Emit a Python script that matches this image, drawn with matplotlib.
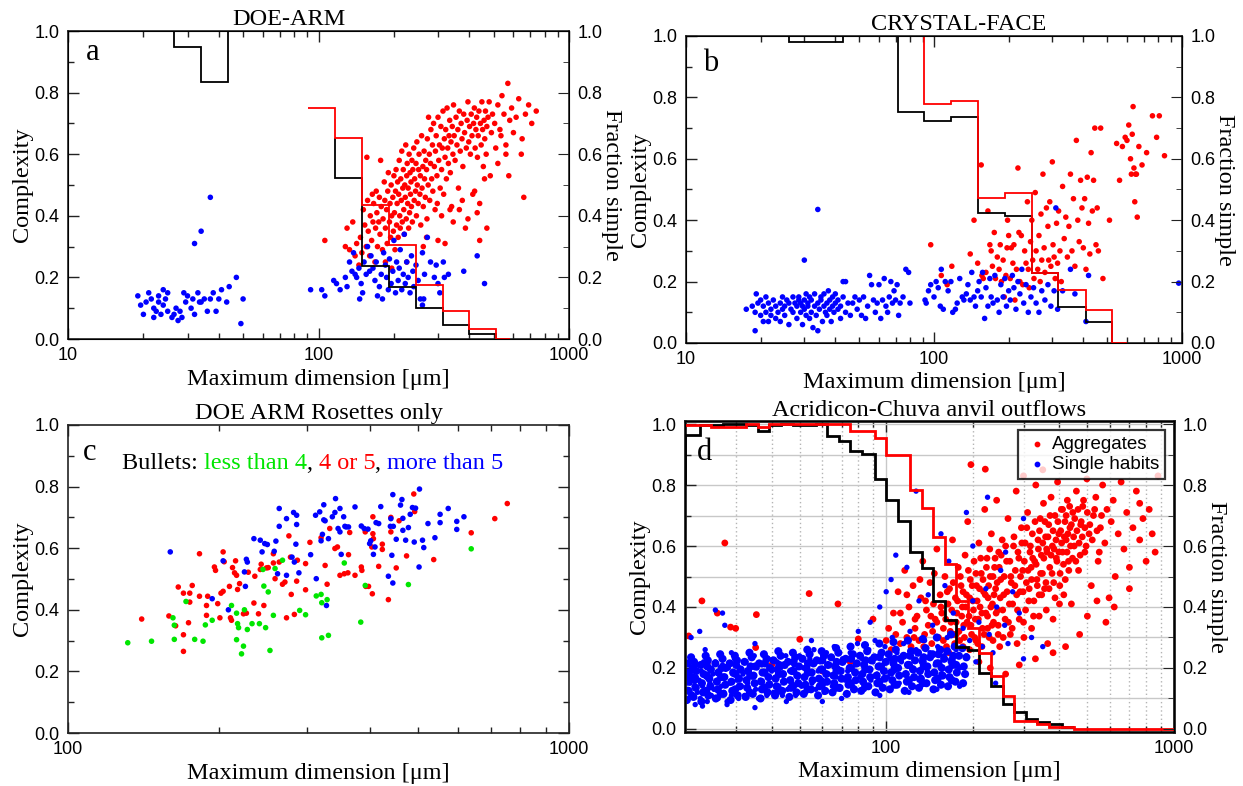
import numpy as np
import matplotlib.pyplot as plt
from matplotlib.ticker import FixedLocator, MultipleLocator, NullFormatter

SERIF = 'Liberation Serif'
SANS = 'Liberation Sans'
RED = '#ff0000'
BLUE = '#0000ff'
GREEN = '#00e600'

# ---------------- panel a : DOE-ARM ----------------
a_single = [(19, 0.14), (19.5, 0.11), (20, 0.08), (20.5, 0.12), (21, 0.15), (21.5, 0.13), (22, 0.10), (22, 0.07),
            (22.5, 0.09), (23, 0.14), (23, 0.12), (23.5, 0.08), (24, 0.16), (24, 0.11), (24.5, 0.13), (25, 0.15),
            (25, 0.09), (26, 0.07), (26.5, 0.08), (27, 0.10), (27.5, 0.06), (28, 0.09), (28.5, 0.07), (29, 0.15),
            (29.5, 0.12), (30, 0.14), (31, 0.10), (31.5, 0.13), (32, 0.08), (33, 0.15), (33.5, 0.12), (34, 0.12),
            (35, 0.13), (36, 0.09), (37, 0.13), (38, 0.15), (39, 0.09), (40, 0.13), (41, 0.16), (43, 0.12),
            (44, 0.17), (47, 0.20), (49, 0.05), (50, 0.13), (37, 0.46), (34, 0.35), (32, 0.31),
            (93, 0.16), (103, 0.16), (106, 0.14), (115, 0.19), (118, 0.18), (122, 0.16), (128, 0.20), (130, 0.17),
            (133, 0.25), (136, 0.22), (138, 0.28), (140, 0.21), (142, 0.20), (145, 0.23), (146, 0.13), (148, 0.18),
            (150, 0.15), (152, 0.25), (155, 0.21), (157, 0.30), (160, 0.22), (162, 0.27), (165, 0.23), (168, 0.19),
            (170, 0.25), (172, 0.14), (175, 0.17), (178, 0.21), (180, 0.13), (182, 0.28), (185, 0.24), (187, 0.20),
            (190, 0.16), (192, 0.26), (195, 0.18), (198, 0.22), (200, 0.32), (203, 0.15), (205, 0.25), (208, 0.19),
            (210, 0.23), (212, 0.29), (215, 0.16), (218, 0.21), (220, 0.34), (222, 0.18), (225, 0.25), (228, 0.20),
            (232, 0.15), (235, 0.27), (238, 0.22), (240, 0.17), (245, 0.24), (250, 0.19), (255, 0.13), (260, 0.28),
            (265, 0.21), (272, 0.33), (280, 0.25), (290, 0.20), (295, 0.24), (300, 0.18), (305, 0.15), (315, 0.25),
            (318, 0.20), (330, 0.21), (380, 0.22), (430, 0.27), (460, 0.18), (260, 0.11), (263, 0.13)]
a_aggr = [(106, 0.32), (128, 0.30), (130, 0.36), (133, 0.29), (137, 0.38), (140, 0.27), (142, 0.31), (145, 0.24),
          (147, 0.33), (149, 0.28), (151, 0.42), (153, 0.37), (155, 0.30), (156, 0.59), (157, 0.45), (158, 0.35),
          (160, 0.27), (161, 0.40), (163, 0.32), (164, 0.47), (165, 0.38), (166, 0.44), (168, 0.25), (169, 0.36),
          (170, 0.48), (171, 0.41), (172, 0.30), (174, 0.38), (175, 0.46), (176, 0.34), (177, 0.58), (178, 0.43),
          (180, 0.29), (181, 0.39), (183, 0.51), (184, 0.45), (185, 0.36), (187, 0.42), (188, 0.31), (189, 0.48),
          (190, 0.54), (192, 0.38), (193, 0.44), (194, 0.33), (195, 0.50), (196, 0.40), (198, 0.46), (199, 0.35),
          (200, 0.53), (201, 0.41), (202, 0.29), (203, 0.48), (204, 0.55), (205, 0.37), (206, 0.44), (207, 0.51),
          (208, 0.33), (209, 0.47), (210, 0.58), (211, 0.40), (212, 0.36), (213, 0.52), (214, 0.45), (215, 0.61),
          (216, 0.38), (217, 0.49), (218, 0.55), (219, 0.42), (220, 0.34), (221, 0.50), (222, 0.46), (223, 0.63),
          (224, 0.39), (225, 0.53), (226, 0.57), (227, 0.44), (228, 0.49), (229, 0.36), (230, 0.60), (231, 0.41),
          (232, 0.54), (233, 0.47), (234, 0.51), (235, 0.43), (236, 0.58), (237, 0.38), (238, 0.55), (240, 0.62),
          (241, 0.45), (242, 0.52), (244, 0.48), (245, 0.57), (246, 0.40), (247, 0.64), (248, 0.50), (250, 0.44),
          (251, 0.55), (252, 0.60), (254, 0.47), (255, 0.53), (256, 0.37), (258, 0.66), (259, 0.49), (261, 0.56),
          (262, 0.43), (264, 0.61), (265, 0.52), (267, 0.46), (268, 0.58), (270, 0.55), (271, 0.39), (272, 0.65),
          (274, 0.50), (275, 0.72), (277, 0.60), (278, 0.45), (280, 0.57), (281, 0.68), (283, 0.52), (285, 0.63),
          (286, 0.48), (288, 0.70), (290, 0.56), (292, 0.42), (293, 0.61), (295, 0.66), (297, 0.53), (298, 0.44),
          (300, 0.72), (302, 0.58), (304, 0.63), (306, 0.49), (308, 0.69), (310, 0.55), (312, 0.62), (314, 0.74),
          (316, 0.47), (318, 0.65), (320, 0.59), (322, 0.68), (324, 0.52), (326, 0.75), (328, 0.62), (330, 0.57),
          (332, 0.66), (334, 0.71), (336, 0.54), (338, 0.64), (340, 0.43), (342, 0.69), (344, 0.60), (346, 0.76),
          (348, 0.66), (351, 0.58), (354, 0.72), (357, 0.63), (360, 0.68), (362, 0.49), (365, 0.74), (368, 0.61),
          (371, 0.70), (374, 0.65), (377, 0.56), (380, 0.73), (383, 0.67), (386, 0.36), (389, 0.62), (392, 0.71),
          (395, 0.77), (398, 0.64), (401, 0.69), (404, 0.60), (407, 0.73), (410, 0.66), (413, 0.47), (416, 0.70),
          (419, 0.75), (422, 0.62), (425, 0.68), (428, 0.72), (431, 0.59), (434, 0.66), (437, 0.74), (440, 0.32),
          (443, 0.70), (446, 0.63), (449, 0.77), (452, 0.68), (455, 0.56), (458, 0.71), (461, 0.65), (464, 0.74),
          (467, 0.60), (470, 0.69), (475, 0.72), (480, 0.77), (485, 0.53), (490, 0.67), (495, 0.73), (505, 0.70),
          (510, 0.62), (520, 0.76), (530, 0.68), (540, 0.79), (550, 0.73), (560, 0.60), (570, 0.83), (580, 0.71),
          (590, 0.75), (600, 0.67), (615, 0.72), (630, 0.78), (645, 0.60), (650, 0.65), (660, 0.46), (670, 0.73),
          (690, 0.76), (710, 0.70), (740, 0.74), (560, 0.63), (575, 0.53), (535, 0.66), (520, 0.57),
          (185, 0.25), (196, 0.23), (225, 0.25), (262, 0.30), (270, 0.33), (365, 0.42), (375, 0.45), (395, 0.39),
          (420, 0.48), (430, 0.41), (460, 0.52), (470, 0.36), (440, 0.44), (300, 0.32), (310, 0.40), (320, 0.31),
          (335, 0.42), (345, 0.38)]
a_top_edges = [16.2, 26.5, 33.9, 43.4, 55.5]
a_top_black = [1.0, 0.949, 0.833, 1.0]
a_top_red = [1.0, 1.0, 1.0, 1.0]
a_red_edges = [91.0, 116.5, 149, 191, 244, 313, 400, 512, 580]
a_red_frac = [0.749, 0.652, 0.435, 0.305, 0.175, 0.091, 0.034, 0.0]
a_black_edges = [116.5, 116.5, 149, 191, 244, 313, 400, 512, 512]
a_black_frac = [0.652, 0.522, 0.237, 0.170, 0.102, 0.047, 0.016, 0.0]

# ---------------- panel b : CRYSTAL-FACE ----------------
b_single = [(17.5, 0.11), (18.5, 0.12), (19, 0.04), (19, 0.10), (19.2, 0.16), (19.5, 0.13), (20, 0.09), (20, 0.14),
            (20.5, 0.07), (20.5, 0.12), (21, 0.15), (21, 0.10), (21.5, 0.13), (21.5, 0.07), (22, 0.11), (22, 0.09),
            (22.5, 0.14), (23, 0.12), (23, 0.08), (23.5, 0.10), (24, 0.13), (24, 0.07), (24.5, 0.15), (24.5, 0.11),
            (25, 0.12), (25, 0.09), (25.5, 0.14), (26, 0.13), (26, 0.06), (26.5, 0.11), (27, 0.15), (27, 0.10),
            (27.5, 0.13), (28, 0.12), (28, 0.08), (28.5, 0.15), (28.5, 0.14), (29, 0.10), (29, 0.13), (29.5, 0.12),
            (29.5, 0.06), (30, 0.14), (30, 0.11), (30.5, 0.16), (30.5, 0.09), (31, 0.13), (31, 0.12), (31.5, 0.15),
            (31.5, 0.08), (32, 0.10), (32, 0.14), (32.5, 0.05), (33, 0.12), (33, 0.16), (33.5, 0.09), (34, 0.13),
            (34, 0.04), (34.5, 0.11), (35, 0.15), (35, 0.14), (35.5, 0.07), (36, 0.12), (36, 0.16), (36.5, 0.10),
            (37, 0.13), (37, 0.09), (37.5, 0.17), (38, 0.11), (38, 0.14), (38.5, 0.07), (39, 0.15), (39, 0.12),
            (39.5, 0.10), (40, 0.13), (40, 0.16), (41, 0.11), (41, 0.14), (42, 0.08), (42, 0.12), (43, 0.15),
            (43, 0.20), (44, 0.10), (44, 0.20), (45, 0.13), (46, 0.09), (47, 0.13), (48, 0.15), (49, 0.11),
            (50, 0.14), (51, 0.09), (52, 0.15), (53, 0.08), (54, 0.12), (55, 0.22), (56, 0.19), (57, 0.14),
            (58, 0.10), (59, 0.13), (60, 0.19), (61, 0.08), (62, 0.14), (63, 0.21), (64, 0.12), (65, 0.10),
            (66, 0.15), (67, 0.20), (68, 0.13), (69, 0.17), (70, 0.14), (71, 0.19), (72, 0.09), (73, 0.13),
            (75, 0.15), (77, 0.24), (79, 0.23), (80, 0.13),
            (92, 0.14), (93, 0.13), (95, 0.17), (97, 0.19), (100, 0.15), (102, 0.20), (104, 0.18), (106, 0.12),
            (107, 0.24), (109, 0.11), (111, 0.20), (114, 0.17), (117, 0.20), (119, 0.10), (122, 0.11), (124, 0.13),
            (127, 0.21), (130, 0.15), (132, 0.14), (135, 0.16), (137, 0.19), (140, 0.14), (142, 0.23), (145, 0.15),
            (147, 0.12), (150, 0.17), (152, 0.20), (155, 0.15), (157, 0.23), (160, 0.08), (162, 0.18), (165, 0.12),
            (168, 0.21), (170, 0.15), (173, 0.13), (176, 0.22), (180, 0.14), (183, 0.10), (186, 0.19), (190, 0.15),
            (193, 0.21), (196, 0.12), (200, 0.17), (203, 0.14), (207, 0.22), (210, 0.18), (214, 0.11), (218, 0.20),
            (222, 0.16), (226, 0.24), (230, 0.13), (235, 0.19), (240, 0.10), (246, 0.15), (252, 0.18), (258, 0.13),
            (265, 0.10), (272, 0.17), (280, 0.14), (288, 0.19), (296, 0.12), (305, 0.17), (310, 0.44), (315, 0.11),
            (330, 0.17), (355, 0.24), (370, 0.16), (410, 0.07), (420, 0.22),
            (34, 0.435), (30, 0.27), (970, 0.195)]
b_aggr = [(107, 0.22), (113, 0.19), (118, 0.25), (97, 0.32), (140, 0.29), (145, 0.40), (150, 0.26), (155, 0.58),
          (156, 0.22), (158, 0.21), (162, 0.23), (165, 0.43), (168, 0.32), (170, 0.30), (172, 0.25), (175, 0.36),
          (177, 0.21), (180, 0.28), (183, 0.24), (185, 0.32), (187, 0.20), (190, 0.27), (192, 0.15), (195, 0.22),
          (197, 0.31), (198, 0.40), (200, 0.35), (203, 0.21), (205, 0.31), (208, 0.26), (210, 0.32), (212, 0.14),
          (215, 0.24), (218, 0.57), (220, 0.36), (222, 0.20), (225, 0.35), (228, 0.19), (232, 0.30), (235, 0.26),
          (238, 0.46), (240, 0.24), (242, 0.18), (245, 0.33), (248, 0.40), (250, 0.27), (253, 0.21), (256, 0.49),
          (258, 0.30), (262, 0.24), (265, 0.35), (268, 0.20), (270, 0.42), (272, 0.27), (275, 0.55), (278, 0.31),
          (280, 0.23), (284, 0.44), (288, 0.38), (290, 0.27), (293, 0.46), (296, 0.25), (300, 0.59), (302, 0.32),
          (305, 0.28), (308, 0.21), (312, 0.39), (315, 0.26), (318, 0.43), (322, 0.30), (326, 0.20), (330, 0.51),
          (335, 0.34), (340, 0.41), (345, 0.28), (350, 0.38), (355, 0.55), (360, 0.30), (365, 0.47), (370, 0.25),
          (375, 0.66), (380, 0.40), (385, 0.33), (390, 0.53), (395, 0.44), (400, 0.31), (405, 0.47), (410, 0.24),
          (415, 0.54), (420, 0.39), (425, 0.29), (430, 0.62), (435, 0.43), (440, 0.53), (445, 0.70), (450, 0.32),
          (455, 0.44), (460, 0.30), (470, 0.70), (480, 0.21), (510, 0.40), (545, 0.65), (560, 0.53), (575, 0.64),
          (590, 0.67), (600, 0.66), (610, 0.71), (620, 0.60), (630, 0.68), (640, 0.57), (645, 0.46), (650, 0.55),
          (660, 0.41), (670, 0.64), (690, 0.58), (720, 0.62), (760, 0.74), (790, 0.67), (810, 0.74), (850, 0.61),
          (635, 0.77), (625, 0.55), (655, 0.55)]
b_edges = [13.8, 26.1, 42.9, 71.3, 91.2, 116.6, 150.2, 193.6, 247.8, 317.6, 409, 524, 524]
b_black_frac = [1.0, 0.979, 1.0, 0.752, 0.724, 0.737, 0.423, 0.415, 0.228, 0.117, 0.068, 0.0]
b_red_edges = [13.8, 91.2, 116.6, 150.2, 193.6, 247.8, 317.6, 409, 524, 600]
b_red_frac = [1.0, 0.778, 0.789, 0.473, 0.490, 0.228, 0.172, 0.106, 0.0]

# ---------------- panel c : DOE ARM rosettes ----------------
c_few = [(131.6, 0.293), (146.8, 0.298), (162, 0.374), (163, 0.304), (172, 0.427), (179, 0.304), (186, 0.298),
         (188, 0.351), (194, 0.366), (212, 0.414), (217, 0.389), (217, 0.303), (218, 0.355), (219, 0.342),
         (224, 0.282), (222, 0.257), (228, 0.336), (233, 0.355), (241, 0.355), (245, 0.531), (246, 0.477),
         (248, 0.342), (251, 0.458), (253, 0.268), (257, 0.382), (259, 0.534), (268, 0.561), (290, 0.398),
         (298, 0.384), (313, 0.445), (320, 0.450), (321, 0.423), (321, 0.309), (329, 0.433), (331, 0.317),
         (356, 0.552), (384, 0.360), (392, 0.479), (478, 0.482), (638, 0.598), (163, 0.35), (225, 0.40)]
c_mid = [(140.3, 0.370), (159, 0.380), (164, 0.348), (170, 0.319), (170, 0.265), (166, 0.474), (170, 0.454),
         (175, 0.454), (175, 0.425), (174, 0.358), (177, 0.479), (183, 0.582), (183, 0.444), (189, 0.414),
         (189, 0.382), (190, 0.444), (196, 0.539), (197, 0.528), (199, 0.420), (201, 0.374), (202, 0.454),
         (204, 0.588), (205, 0.556), (204, 0.460), (210, 0.476), (211, 0.374), (212, 0.366), (213, 0.537),
         (215, 0.520), (216, 0.559), (217, 0.512), (218, 0.466), (220, 0.485), (224, 0.387), (227, 0.389),
         (229, 0.522), (235, 0.422), (236, 0.509), (240, 0.387), (242, 0.531), (243, 0.548), (246, 0.414),
         (249, 0.536), (251, 0.537), (257, 0.552), (257, 0.582), (259, 0.501), (264, 0.555), (268, 0.483),
         (271, 0.490), (273, 0.374), (276, 0.640), (278, 0.571), (279, 0.450), (283, 0.385), (286, 0.493),
         (287, 0.561), (298, 0.550), (298, 0.465), (304, 0.619), (320, 0.634), (326, 0.544), (329, 0.483),
         (333, 0.664), (341, 0.599), (345, 0.604), (349, 0.512), (356, 0.517), (362, 0.520), (365, 0.651),
         (363, 0.579), (374, 0.512), (385, 0.539), (386, 0.528), (392, 0.653), (393, 0.476), (398, 0.476),
         (404, 0.604), (406, 0.702), (405, 0.452), (406, 0.647), (407, 0.631), (417, 0.541), (424, 0.613),
         (424, 0.596), (436, 0.433), (441, 0.653), (441, 0.700), (452, 0.536), (458, 0.689), (474, 0.575),
         (490, 0.776), (492, 0.719), (537, 0.563), (638, 0.650), (711, 0.696), (753, 0.745)]
c_many = [(160, 0.588), (194, 0.436), (204, 0.559), (209, 0.400), (226, 0.476), (227, 0.564), (228, 0.555),
          (225, 0.523), (235, 0.631), (242, 0.626), (244, 0.588), (247, 0.615), (250, 0.612), (258, 0.590),
          (260, 0.623), (264, 0.729), (264, 0.671), (262, 0.517), (273, 0.512), (273, 0.696), (280, 0.571),
          (282, 0.716), (283, 0.555), (286, 0.707), (286, 0.677), (285, 0.613), (289, 0.520), (305, 0.579),
          (312, 0.707), (313, 0.501), (318, 0.718), (320, 0.624), (322, 0.645), (324, 0.692), (324, 0.741),
          (326, 0.689), (328, 0.414), (331, 0.631), (337, 0.702), (341, 0.716), (342, 0.761), (346, 0.664),
          (349, 0.729), (349, 0.653), (351, 0.580), (355, 0.702), (357, 0.671), (359, 0.669), (363, 0.669),
          (374, 0.734), (385, 0.672), (390, 0.664), (397, 0.662), (400, 0.615), (402, 0.624), (407, 0.580),
          (412, 0.683), (410, 0.604), (417, 0.680), (421, 0.735), (436, 0.509), (440, 0.671), (441, 0.696),
          (443, 0.577), (445, 0.487), (445, 0.774), (446, 0.671), (452, 0.629), (461, 0.740), (464, 0.758),
          (466, 0.697), (466, 0.658), (472, 0.626), (478, 0.667), (482, 0.710), (487, 0.732), (491, 0.620),
          (494, 0.730), (502, 0.539), (503, 0.792), (510, 0.626), (513, 0.602), (523, 0.680), (540, 0.634),
          (553, 0.710), (553, 0.683), (574, 0.729), (597, 0.661), (597, 0.687), (617, 0.702)]

# ---------------- panel d : Acridicon-Chuva ----------------
d_single = [(20.2, 0.09), (20.4, 0.13), (20.3, 0.17), (20.6, 0.21), (20.8, 0.15), (21.0, 0.11), (21.2, 0.19),
            (21.1, 0.23), (21.5, 0.14), (21.7, 0.08), (21.9, 0.17), (22.1, 0.12), (22.0, 0.21), (22.4, 0.16),
            (22.6, 0.10), (22.8, 0.19), (23.0, 0.14), (23.2, 0.22), (23.5, 0.12), (23.7, 0.17), (23.9, 0.09),
            (24.2, 0.20), (24.4, 0.15), (24.7, 0.11), (25.0, 0.18), (25.2, 0.13), (25.5, 0.22), (25.8, 0.16),
            (26.1, 0.10), (26.4, 0.19), (26.7, 0.14), (27.0, 0.21), (27.3, 0.12), (27.6, 0.17), (28.0, 0.09),
            (28.3, 0.20), (28.6, 0.15), (29.0, 0.11), (29.3, 0.18), (29.7, 0.23), (30.0, 0.13), (30.3, 0.16),
            (30.7, 0.10), (31.0, 0.20), (31.4, 0.14), (31.8, 0.18), (32.2, 0.11), (32.6, 0.22), (33.0, 0.15),
            (33.4, 0.19), (33.8, 0.12), (34.3, 0.17), (34.8, 0.24), (35.2, 0.13), (35.6, 0.20), (36.0, 0.10),
            (36.5, 0.16), (37.0, 0.21), (37.5, 0.14), (38.0, 0.18), (38.5, 0.11), (39.0, 0.23), (39.5, 0.15),
            (40.0, 0.19), (40.6, 0.12), (41.2, 0.17), (41.8, 0.22), (42.4, 0.14), (43.0, 0.20), (43.6, 0.11),
            (44.2, 0.16), (44.8, 0.24), (45.5, 0.13), (46.2, 0.19), (47.0, 0.15), (47.8, 0.21), (48.5, 0.11),
            (49.3, 0.17), (50.0, 0.24), (50.8, 0.14), (51.6, 0.20), (52.5, 0.12), (53.4, 0.18), (54.3, 0.23),
            (55.2, 0.15), (56.1, 0.26), (57.0, 0.13), (58.0, 0.19), (59.0, 0.22), (60.0, 0.16), (61.0, 0.12),
            (62.0, 0.25), (63.0, 0.18), (64.0, 0.21), (65.0, 0.14), (66.0, 0.27), (67.0, 0.17), (68.0, 0.20),
            (69.0, 0.13), (70.5, 0.23), (72.0, 0.16), (73.5, 0.19), (75.0, 0.25), (76.5, 0.14), (78.0, 0.21),
            (79.5, 0.28), (81.0, 0.17), (82.5, 0.23), (84.0, 0.13), (85.5, 0.20), (87.0, 0.26), (88.5, 0.16),
            (90.0, 0.22), (91.5, 0.29), (93.0, 0.18), (94.5, 0.24), (96.0, 0.14), (97.5, 0.21), (99.0, 0.27),
            (101, 0.17), (103, 0.23), (105, 0.30), (107, 0.19), (109, 0.25), (111, 0.15), (113, 0.22), (115, 0.28),
            (117, 0.18), (119, 0.24), (121, 0.32), (124, 0.20), (127, 0.26), (130, 0.16), (133, 0.23), (136, 0.29),
            (139, 0.19), (142, 0.25), (145, 0.34), (148, 0.21), (151, 0.27), (155, 0.18), (159, 0.24), (163, 0.30),
            (167, 0.22), (171, 0.38), (175, 0.26), (180, 0.20), (185, 0.33), (190, 0.24), (195, 0.29), (200, 0.42),
            (205, 0.22), (210, 0.35), (216, 0.27), (222, 0.46), (228, 0.31), (235, 0.25), (242, 0.40), (250, 0.52),
            (258, 0.34), (265, 0.28), (275, 0.45), (290, 0.38), (300, 0.23), (320, 0.30), (350, 0.27),
            (21, 0.30), (22.5, 0.32), (23.5, 0.26), (25.5, 0.39), (27, 0.38), (27.5, 0.34), (29, 0.25), (35, 0.28),
            (55, 0.29), (80, 0.32), (88, 0.35), (95, 0.40), (100, 0.45), (108, 0.57), (104, 0.49), (118, 0.53),
            (127, 0.78), (155, 0.64), (165, 0.55), (190, 0.71), (225, 0.76), (300, 0.69), (160, 0.47), (140, 0.44),
            (130, 0.42), (200, 0.60), (260, 0.58), (240, 0.15), (180, 0.14), (150, 0.13), (120, 0.12), (95, 0.11),
            (70, 0.10), (60, 0.09), (45, 0.09), (35, 0.07), (28, 0.08), (23, 0.075)]
# the saturated single-habit band
d_single_band = [
    (20.3, 0.095), (21.4, 0.105), (22.8, 0.09), (24.1, 0.11), (25.6, 0.10), (27.2, 0.115), (28.8, 0.095),
    (30.5, 0.11), (32.5, 0.105), (34.4, 0.115), (36.6, 0.10), (38.7, 0.12), (41.1, 0.11), (43.5, 0.125),
    (46.1, 0.105), (48.8, 0.12), (51.7, 0.115), (54.8, 0.13), (58.0, 0.11), (61.4, 0.125), (65.1, 0.12),
    (68.9, 0.135), (73.0, 0.115), (77.3, 0.13), (81.9, 0.125), (86.7, 0.14), (91.8, 0.12), (97.3, 0.135),
    (103, 0.13), (109, 0.145), (116, 0.125), (123, 0.14), (130, 0.135), (138, 0.15), (146, 0.13), (155, 0.145),
    (164, 0.14), (174, 0.155), (185, 0.15),
    (20.6, 0.125), (21.8, 0.135), (23.1, 0.12), (24.5, 0.14), (26.0, 0.13), (27.6, 0.145), (29.2, 0.125),
    (31.0, 0.14), (32.9, 0.135), (34.9, 0.15), (37.0, 0.13), (39.2, 0.145), (41.6, 0.14), (44.1, 0.155),
    (46.7, 0.135), (49.5, 0.15), (52.4, 0.145), (55.5, 0.16), (58.8, 0.14), (62.3, 0.155), (66.0, 0.15),
    (69.9, 0.165), (74.0, 0.145), (78.4, 0.16), (83.1, 0.155), (88.0, 0.17), (93.2, 0.15), (98.8, 0.165),
    (105, 0.16), (111, 0.175), (118, 0.155), (125, 0.17), (132, 0.165), (140, 0.18), (148, 0.16), (157, 0.175),
    (166, 0.17), (176, 0.185), (188, 0.18),
    (20.4, 0.155), (21.6, 0.16), (22.9, 0.15), (24.3, 0.165), (25.8, 0.155), (27.4, 0.17), (29.0, 0.155),
    (30.8, 0.165), (32.7, 0.16), (34.6, 0.175), (36.8, 0.155), (39.0, 0.17), (41.3, 0.165), (43.8, 0.18),
    (46.4, 0.16), (49.1, 0.175), (52.0, 0.17), (55.1, 0.185), (58.4, 0.165), (61.9, 0.18), (65.6, 0.175),
    (69.5, 0.19), (73.6, 0.17), (78.0, 0.185), (82.6, 0.18), (87.5, 0.195), (92.7, 0.175), (98.2, 0.19),
    (104, 0.185), (110, 0.2), (117, 0.18), (124, 0.195), (131, 0.19), (139, 0.205), (147, 0.185), (156, 0.2),
    (165, 0.195), (175, 0.21), (186, 0.205),
    (20.5, 0.185), (21.9, 0.19), (23.2, 0.18), (24.6, 0.195), (26.1, 0.185), (27.7, 0.2), (29.4, 0.185),
    (31.2, 0.195), (33.1, 0.19), (35.1, 0.205), (37.2, 0.185), (39.5, 0.2), (41.9, 0.195), (44.4, 0.21),
    (47.0, 0.19), (49.8, 0.205), (52.8, 0.2), (55.9, 0.215), (59.3, 0.195), (62.8, 0.21), (66.5, 0.205),
    (70.5, 0.22), (74.7, 0.2), (79.1, 0.215), (83.8, 0.21), (88.8, 0.225), (94.1, 0.205), (99.7, 0.22),
    (106, 0.215), (112, 0.23), (119, 0.21), (126, 0.225), (134, 0.22), (142, 0.235), (150, 0.215), (159, 0.23),
    (169, 0.225), (179, 0.24), (190, 0.235),
    (20.3, 0.215), (21.5, 0.22), (22.7, 0.21), (24.0, 0.225), (25.5, 0.215), (27.0, 0.23), (28.6, 0.215),
    (30.3, 0.225), (32.2, 0.22), (34.1, 0.235), (36.2, 0.215), (38.4, 0.23), (40.6, 0.225), (43.0, 0.24),
    (45.6, 0.22), (48.3, 0.235), (51.2, 0.23), (54.2, 0.245), (57.4, 0.225), (60.8, 0.24), (64.4, 0.235),
    (68.2, 0.25), (72.3, 0.23), (76.6, 0.245), (81.1, 0.24), (85.9, 0.255), (91.0, 0.235), (96.4, 0.25),
    (102, 0.245), (108, 0.26), (115, 0.24), (122, 0.255), (129, 0.25), (137, 0.265), (145, 0.245), (154, 0.26),
    (163, 0.255), (173, 0.27), (184, 0.265),
    (21.0, 0.235), (23.6, 0.24), (26.5, 0.245), (29.8, 0.24), (33.5, 0.25), (37.6, 0.245), (42.2, 0.255),
    (47.4, 0.25), (53.2, 0.26), (59.7, 0.255), (67.0, 0.265), (75.2, 0.27), (84.4, 0.275), (94.7, 0.28),
    (106, 0.285), (119, 0.29), (134, 0.295), (150, 0.3), (168, 0.31),
    (21.1, 0.11), (23.7, 0.125), (26.6, 0.115), (29.9, 0.13), (33.6, 0.12), (37.7, 0.135), (42.3, 0.125),
    (47.5, 0.14), (53.3, 0.13), (59.8, 0.145), (67.1, 0.135), (75.3, 0.15), (84.5, 0.14), (94.8, 0.155),
    (107, 0.145), (120, 0.16), (134, 0.15), (151, 0.165), (169, 0.16),
    (21.2, 0.17), (23.8, 0.175), (26.7, 0.17), (30.0, 0.18), (33.7, 0.175), (37.8, 0.185), (42.4, 0.18),
    (47.6, 0.19), (53.4, 0.185), (59.9, 0.195), (67.2, 0.19), (75.4, 0.2), (84.6, 0.195), (94.9, 0.205),
    (107, 0.2), (120, 0.21), (135, 0.205), (152, 0.215), (170, 0.21),
    (21.3, 0.2), (23.9, 0.205), (26.8, 0.2), (30.1, 0.21), (33.8, 0.205), (37.9, 0.215), (42.5, 0.21),
    (47.7, 0.22), (53.5, 0.215), (60.0, 0.225), (67.3, 0.22), (75.5, 0.23), (84.7, 0.225), (95.0, 0.235),
    (107, 0.23), (121, 0.24), (135, 0.235), (152, 0.245), (171, 0.24)]
d_aggr = [(20.6, 0.305), (22.9, 0.42), (25.9, 0.38), (27.5, 0.61), (28.8, 0.334), (30, 0.33), (35.4, 0.375),
          (35.2, 0.267), (54, 0.444), (50.1, 0.294), (68, 0.41), (80, 0.295), (90, 0.36), (24, 0.22), (40, 0.21),
          (60, 0.19), (75, 0.22),
          (100, 0.29), (102, 0.33), (104, 0.26), (106, 0.38), (108, 0.31), (110, 0.45), (112, 0.28), (114, 0.35),
          (116, 0.52), (118, 0.30), (120, 0.40), (122, 0.27), (124, 0.47), (126, 0.33), (128, 0.37), (130, 0.29),
          (132, 0.43), (134, 0.55), (136, 0.31), (138, 0.39), (140, 0.34), (142, 0.48), (144, 0.28), (146, 0.41),
          (148, 0.36), (150, 0.59), (152, 0.30), (154, 0.44), (156, 0.38), (158, 0.33), (160, 0.50), (162, 0.27),
          (164, 0.41), (166, 0.46), (168, 0.35), (170, 0.62), (172, 0.31), (174, 0.43), (176, 0.38), (178, 0.53),
          (180, 0.29), (182, 0.47), (184, 0.40), (186, 0.34), (188, 0.57), (190, 0.44), (192, 0.68), (194, 0.37),
          (196, 0.49), (198, 0.31), (200, 0.42), (202, 0.55), (204, 0.36), (206, 0.47), (208, 0.28), (210, 0.61),
          (212, 0.40), (214, 0.51), (216, 0.33), (218, 0.45), (220, 0.72), (222, 0.38), (224, 0.56), (226, 0.43),
          (228, 0.30), (230, 0.50), (232, 0.64), (234, 0.41), (236, 0.35), (238, 0.53), (240, 0.46), (242, 0.75),
          (244, 0.39), (246, 0.58), (248, 0.27), (250, 0.49), (253, 0.62), (256, 0.44), (259, 0.36), (262, 0.55),
          (265, 0.69), (268, 0.41), (271, 0.50), (274, 0.33), (277, 0.60), (280, 0.47), (283, 0.78), (286, 0.39),
          (289, 0.56), (292, 0.45), (295, 0.66), (298, 0.52), (301, 0.30), (304, 0.61), (307, 0.48), (310, 0.71),
          (313, 0.42), (316, 0.58), (319, 0.53), (322, 0.64), (325, 0.37), (328, 0.55), (331, 0.80), (334, 0.49),
          (337, 0.62), (340, 0.44), (343, 0.69), (346, 0.57), (349, 0.51), (352, 0.74), (355, 0.46), (358, 0.63),
          (361, 0.59), (364, 0.28), (367, 0.67), (370, 0.53), (374, 0.76), (378, 0.60), (382, 0.48), (386, 0.70),
          (390, 0.56), (394, 0.81), (398, 0.64), (402, 0.51), (406, 0.72), (410, 0.58), (414, 0.44), (418, 0.68),
          (422, 0.62), (426, 0.75), (430, 0.55), (435, 0.66), (440, 0.41), (445, 0.71), (450, 0.60), (458, 0.78),
          (466, 0.52), (474, 0.67), (482, 0.73), (490, 0.58), (498, 0.82), (507, 0.64), (516, 0.47), (525, 0.70),
          (535, 0.76), (545, 0.55), (555, 0.66), (565, 0.80), (575, 0.61), (585, 0.72), (595, 0.43), (605, 0.68),
          (615, 0.75), (625, 0.50), (640, 0.64), (655, 0.81), (670, 0.59), (685, 0.71), (700, 0.46), (720, 0.66),
          (740, 0.78), (760, 0.62), (780, 0.69), (800, 0.55), (820, 0.72), (840, 0.64), (860, 0.58), (880, 0.83),
          (620, 0.40), (580, 0.35), (700, 0.53), (760, 0.74), (540, 0.42), (500, 0.37), (470, 0.31), (420, 0.27),
          (380, 0.25), (330, 0.23), (290, 0.21), (260, 0.18), (230, 0.20), (210, 0.22), (197, 0.867), (221, 0.852),
          (300, 0.83), (350, 0.85),
          (150, 0.35), (155, 0.40), (158, 0.29), (161, 0.36), (163, 0.45), (167, 0.32), (169, 0.39), (171, 0.48),
          (173, 0.28), (175, 0.35), (177, 0.42), (179, 0.32), (181, 0.50), (183, 0.37), (185, 0.45), (187, 0.30),
          (189, 0.40), (191, 0.35), (193, 0.52), (195, 0.43), (197, 0.34), (199, 0.47), (201, 0.39), (203, 0.30),
          (205, 0.51), (207, 0.42), (209, 0.36), (211, 0.46), (213, 0.56), (215, 0.38), (217, 0.49), (219, 0.31),
          (221, 0.44), (223, 0.53), (225, 0.37), (227, 0.47), (229, 0.59), (231, 0.40), (233, 0.34), (235, 0.50),
          (237, 0.44), (239, 0.56), (241, 0.38), (243, 0.48), (245, 0.31), (247, 0.53), (249, 0.43), (251, 0.57),
          (254, 0.39), (257, 0.50), (260, 0.60), (263, 0.45), (266, 0.35), (269, 0.55), (272, 0.48), (275, 0.41),
          (278, 0.63), (281, 0.52), (284, 0.44), (287, 0.58), (290, 0.36), (293, 0.50), (296, 0.61), (299, 0.45),
          (302, 0.55), (305, 0.39), (308, 0.66), (311, 0.52), (314, 0.46), (317, 0.60), (320, 0.49), (323, 0.56),
          (326, 0.42), (329, 0.68), (332, 0.54), (335, 0.47), (338, 0.59), (341, 0.65), (344, 0.51), (347, 0.44),
          (350, 0.61), (353, 0.56), (356, 0.68), (359, 0.48), (362, 0.58), (365, 0.63), (368, 0.46), (371, 0.70),
          (374, 0.57), (377, 0.51), (380, 0.65), (383, 0.59), (386, 0.43), (389, 0.62), (392, 0.55), (395, 0.68),
          (398, 0.58), (401, 0.47), (404, 0.65), (407, 0.61), (410, 0.72), (413, 0.54), (416, 0.63), (419, 0.49),
          (422, 0.70), (425, 0.58), (428, 0.64), (431, 0.52), (434, 0.73), (437, 0.60), (440, 0.67), (444, 0.56),
          (448, 0.63), (452, 0.69), (456, 0.55), (460, 0.65), (464, 0.72), (468, 0.61), (472, 0.57), (476, 0.68),
          (480, 0.63), (485, 0.75), (490, 0.66), (495, 0.60), (500, 0.71), (510, 0.67), (520, 0.62), (530, 0.72),
          (540, 0.65), (550, 0.58), (560, 0.70),
          (125, 0.30), (135, 0.27), (145, 0.32), (155, 0.26), (165, 0.25), (175, 0.31), (185, 0.27), (195, 0.26),
          (205, 0.29), (215, 0.27), (225, 0.33), (235, 0.29), (245, 0.34), (255, 0.30), (270, 0.31), (285, 0.28),
          (300, 0.35), (320, 0.33), (340, 0.37), (360, 0.39), (380, 0.36), (400, 0.41),
          (112, 0.38), (118, 0.44), (126, 0.36), (131, 0.49), (137, 0.42), (143, 0.37), (147, 0.51)]
d_edges = [20.0, 20.0, 22.5, 24.7, 27.1, 29.8, 32.7, 35.8, 39.3, 43.1, 47.3, 51.9, 56.9, 62.4, 68.5, 75.1,
           82.4, 91.1, 99.7, 109.7, 120.9, 132.7, 145.6, 159.7, 175.2, 192.2, 210.9, 231.3, 253.8, 278.4,
           305.5, 335.0, 367.6, 408.4, 448.0]
d_black_frac = [0.80, 0.965, 0.998, 0.998, 1.0, 1.0, 0.998, 0.976, 0.998, 1.0, 0.998, 0.997, 1.0, 0.962,
                0.943, 0.910, 0.902, 0.819, 0.751, 0.683, 0.581, 0.529, 0.421, 0.357, 0.270, 0.259, 0.184,
                0.140, 0.081, 0.054, 0.032, 0.022, 0.016, 0.005]
d_red_edges = [20.0, 24.7, 32.7, 35.8, 39.3, 75.1, 91.1, 99.7, 120.9, 132.7, 145.6, 159.7, 175.2, 192.2,
               210.9, 231.3, 253.8, 278.4, 335.0, 367.6, 448.0, 1000]
d_red_frac = [0.998, 0.991, 1.0, 0.99, 1.0, 0.978, 0.953, 0.897, 0.783, 0.724, 0.629, 0.54, 0.42, 0.33,
              0.25, 0.173, 0.108, 0.027, 0.016, 0.005, 0.0]

W, H = 1243, 786
fig = plt.figure(figsize=(W / 100, H / 100), dpi=100)


def box(l, t, r, b):
    return [l / W, 1 - b / H, (r - l) / W, (b - t) / H]


def style(ax, xlim, xticks, lw=1.2):
    ax.set_xscale('log')
    ax.set_xlim(*xlim)
    ax.set_ylim(0, 1)
    ax.xaxis.set_major_locator(FixedLocator(xticks))
    ax.set_xticklabels([str(t) for t in xticks])
    minors = [m * 10 ** e for e in range(1, 3) for m in range(2, 10)]
    ax.xaxis.set_minor_locator(FixedLocator(minors))
    ax.xaxis.set_minor_formatter(NullFormatter())
    ax.yaxis.set_major_locator(MultipleLocator(0.2))
    ax.yaxis.set_minor_locator(MultipleLocator(0.1))
    ax.yaxis.set_major_formatter(plt.FuncFormatter(lambda v, p: '%.1f' % v))
    ax.tick_params(which='both', direction='in', top=True, right=True, color='#222222', width=1)
    ax.tick_params(which='major', length=8, labelsize=13, pad=6)
    ax.tick_params(which='minor', length=4)
    for lab in ax.get_xticklabels() + ax.get_yticklabels():
        lab.set_family(SANS)
    for s in ax.spines.values():
        s.set_linewidth(lw)
        s.set_color('#222222')
    ax.set_xlabel('Maximum dimension [\u03bcm]', family=SERIF, fontsize=17.5, labelpad=3)
    ax.set_ylabel('Complexity', family=SERIF, fontsize=17.5, labelpad=1)


def right_axis(ax, lim=(0, 1)):
    rx = ax.twinx()
    rx.set_ylim(*lim)
    rx.yaxis.set_major_locator(MultipleLocator(0.2))
    rx.yaxis.set_minor_locator(MultipleLocator(0.1))
    rx.yaxis.set_major_formatter(plt.FuncFormatter(lambda v, p: '%.1f' % v))
    rx.tick_params(which='both', direction='in', color='#222222')
    rx.tick_params(which='major', length=8, labelsize=13, pad=6)
    rx.tick_params(which='minor', length=4)
    for lab in rx.get_yticklabels():
        lab.set_family(SANS)
    rx.set_ylabel('Fraction simple', family=SERIF, fontsize=17.5, rotation=270, labelpad=14)
    return rx


def dots(ax, pts, color, s=16, z=2):
    x, y = np.array(pts).T
    ax.scatter(x, y, s=s, color=color, edgecolors='none', zorder=z)


# ---- a ----
ax = fig.add_axes(box(68, 31, 569, 339))
style(ax, (10, 1000), [10, 100, 1000])
dots(ax, a_aggr, RED)
dots(ax, a_single, BLUE)
ax.set_title('DOE-ARM', family=SERIF, fontsize=17.5, pad=4, x=0.44)
ax.text(0.035, 0.93, 'a', transform=ax.transAxes, family=SERIF, fontsize=22, va='center')
rx = right_axis(ax)
rx.stairs(a_top_black, a_top_edges, baseline=None, color='black', lw=1.3)
rx.stairs(a_top_red, a_top_edges, baseline=None, color=RED, lw=1.3)
rx.stairs(a_black_frac, a_black_edges, baseline=None, color='black', lw=1.3)
rx.stairs(a_red_frac, a_red_edges, baseline=None, color=RED, lw=1.3)

# ---- b ----
ax = fig.add_axes(box(686, 36, 1182, 343))
style(ax, (10, 1000), [10, 100, 1000])
dots(ax, b_aggr, RED)
dots(ax, b_single, BLUE)
ax.set_title('CRYSTAL-FACE', family=SERIF, fontsize=17.5, pad=4, x=0.55)
ax.text(0.035, 0.91, 'b', transform=ax.transAxes, family=SERIF, fontsize=22, va='center')
rx = right_axis(ax)
rx.stairs(b_black_frac, b_edges, baseline=None, color='black', lw=1.3)
rx.stairs(b_red_frac, b_red_edges, baseline=None, color=RED, lw=1.3)

# ---- c ----
ax = fig.add_axes(box(68, 425, 569, 733))
style(ax, (100, 1000), [100, 1000])
dots(ax, c_mid, RED)
dots(ax, c_many, BLUE)
dots(ax, c_few, GREEN)
ax.set_title('DOE ARM Rosettes only', family=SERIF, fontsize=17.5, pad=4)
ax.text(0.03, 0.91, 'c', transform=ax.transAxes, family=SERIF, fontsize=22, va='center')
pieces = [('Bullets: ', 'black'), ('less than 4', GREEN), (', ', 'black'), ('4 or 5', RED),
          (', ', 'black'), ('more than 5', BLUE)]
prev = ax.text(0.107, 0.875, pieces[0][0], transform=ax.transAxes, family=SERIF, fontsize=17.5,
               color=pieces[0][1], va='center')
for txt, col in pieces[1:]:
    prev = ax.annotate(txt, xy=(1, 0), xycoords=prev, xytext=(0, 0), textcoords='offset points',
                       family=SERIF, fontsize=17.5, color=col, va='bottom')
ax.tick_params(axis='y', which='both', labelright=False)

# ---- d ----
ax = fig.add_axes(box(685, 421, 1174, 732))
style(ax, (20, 1000), [100, 1000], lw=2)
ax.set_ylim(-0.01, 1.01)
ax.set_xticks([30, 40, 50, 60, 70, 80, 90, 200, 300, 400, 500, 600, 700, 800, 900], minor=True)
ax.grid(True, which='both', axis='y', color='#c8c8c8', lw=1)
ax.grid(True, which='major', axis='x', color='#c8c8c8', lw=1)
ax.grid(True, which='minor', axis='x', color='#b4b4b4', lw=1, ls=(0, (1, 2)))
ax.set_axisbelow(True)
dots(ax, d_aggr, RED, s=24)
dots(ax, d_single_band, BLUE, s=34)
dots(ax, d_single, BLUE, s=15)
ax.set_title('Acridicon-Chuva anvil outflows', family=SERIF, fontsize=17.5, pad=3)
ax.text(0.025, 0.90, 'd', transform=ax.transAxes, family=SERIF, fontsize=22, va='center')
h1 = ax.scatter([], [], s=10, color=RED, label='Aggregates')
h2 = ax.scatter([], [], s=10, color=BLUE, label='Single habits')
leg = ax.legend(handles=[h1, h2], loc='upper right', prop={'family': SANS, 'size': 13.5}, frameon=True,
                fancybox=False, edgecolor='black', borderaxespad=0.5, handletextpad=0.1, handlelength=1.4,
                labelspacing=0.15, borderpad=0.3)
leg.get_frame().set_linewidth(1.6)
leg.set_zorder(10)
rx = right_axis(ax, (-0.01, 1.01))
rx.stairs(d_black_frac, d_edges, baseline=None, color='black', lw=2)
rx.stairs(d_red_frac, d_red_edges, baseline=None, color=RED, lw=2)

fig.savefig('out.png', dpi=100)
